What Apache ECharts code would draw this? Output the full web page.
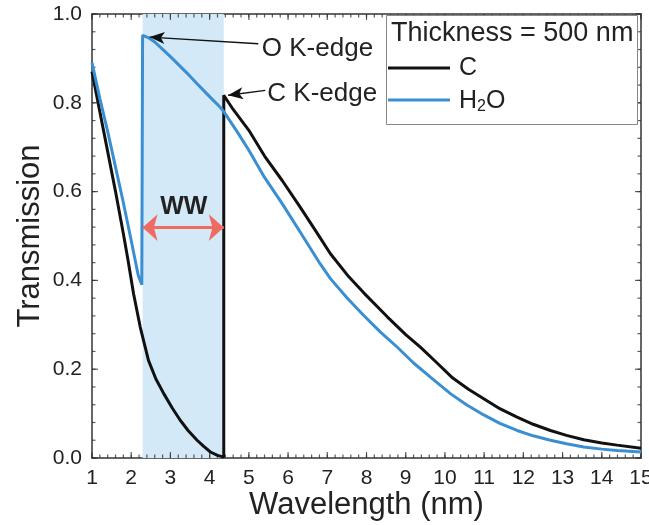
<!DOCTYPE html>
<html>
<head>
<meta charset="utf-8">
<script src="https://cdn.jsdelivr.net/npm/echarts@6/dist/echarts.min.js"></script>
<style>
  html, body { margin: 0; padding: 0; background: #fff; }
  #chart { width: 649px; height: 525px; }
</style>
</head>
<body>
<div id="chart"></div>
<script>
// carbon, 500 nm
var cWave = [1.0, 1.2, 1.4, 1.6, 1.8, 1.92, 2.06, 2.23, 2.44, 2.63, 2.83, 3.05, 3.25, 3.45, 3.68, 3.85, 4.02, 4.2, 4.36,
  4.36, 4.6, 5.0, 5.4, 5.85, 6.3, 6.7, 7.08, 7.55, 7.93, 8.53, 9.0, 9.38, 9.8, 10.2, 10.6, 11.0, 11.4, 11.84, 12.25, 12.69, 13.1, 13.54, 14.0, 14.39, 15.0];
var cTrans = [0.870, 0.780, 0.690, 0.600, 0.505, 0.445, 0.370, 0.295, 0.220, 0.178, 0.145, 0.112, 0.085, 0.062, 0.040, 0.026, 0.0135, 0.006, 0.002,
  0.817, 0.785, 0.738, 0.680, 0.625, 0.566, 0.512, 0.460, 0.408, 0.372, 0.318, 0.278, 0.249, 0.214, 0.180, 0.155, 0.133, 0.111, 0.092, 0.076, 0.062, 0.051, 0.041, 0.034, 0.029, 0.022];

// water, 500 nm
var wWave = [1.0, 1.2, 1.4, 1.6, 1.8, 2.0, 2.18, 2.27,
  2.29, 2.45, 2.6, 2.83, 3.0, 3.25, 3.5, 3.68, 3.9, 4.1, 4.27, 4.36, 4.7, 5.0, 5.4, 5.85, 6.3, 6.82, 7.08, 7.5, 7.93, 8.35, 8.78, 9.2, 9.63, 10.14, 10.55, 10.99, 11.4, 11.84, 12.25, 12.69, 13.1, 13.54, 14.0, 14.39, 15.0];
var wTrans = [0.890, 0.810, 0.735, 0.655, 0.575, 0.490, 0.411, 0.390,
  0.952, 0.946, 0.937, 0.918, 0.904, 0.882, 0.860, 0.843, 0.823, 0.805, 0.790, 0.780, 0.735, 0.693, 0.632, 0.573, 0.510, 0.437, 0.404, 0.361, 0.321, 0.284, 0.250, 0.214, 0.182, 0.145, 0.120, 0.097, 0.078, 0.062, 0.050, 0.040, 0.032, 0.025, 0.020, 0.017, 0.0135];

// water window (O K-edge .. C K-edge)
var edgeO = 2.29;
var edgeC = 4.36;

var xTicks = [1, 15, 1, 0.2];   // min, max, major, minor
var yTicks = [0, 1.0, 0.2, 0.04];

function pairs(xs, ys) {
  var out = [];
  for (var i = 0; i < xs.length; i++) out.push([xs[i], ys[i]]);
  return out;
}
function steps(t, step) {
  var n = Math.round((t[1] - t[0]) / step), out = [];
  for (var i = 0; i <= n; i++) out.push(+(t[0] + i * step).toFixed(4));
  return out;
}

var FONT = "Liberation Sans";
var axisCol = "#333";

function frameAxis(pos, t, extra) {
  var a = {
    type: "value", position: pos,
    min: t[0], max: t[1], interval: t[2],
    axisLine: { show: true, onZero: false, lineStyle: { color: axisCol, width: 1.5 } },
    axisTick: { show: false },
    splitLine: { show: false },
    axisLabel: { show: false },
    nameMoveOverlap: false
  };
  for (var k in extra) a[k] = extra[k];
  return a;
}

// inward ticks, drawn as thin rect symbols sitting on the frame
function tickSeries(side, step, len) {
  var data = [], vals, size, off;
  if (side === "bottom" || side === "top") {
    vals = steps(xTicks, step);
    var yv = side === "bottom" ? yTicks[0] : yTicks[1];
    vals.forEach(function (v) { data.push([v, yv]); });
    size = [1.2, len];
    off = [0, side === "bottom" ? -len / 2 : len / 2];
  } else {
    vals = steps(yTicks, step);
    var xv = side === "left" ? xTicks[0] : xTicks[1];
    vals.forEach(function (v) { data.push([xv, v]); });
    size = [len, 1.2];
    off = [side === "left" ? len / 2 : -len / 2, 0];
  }
  return {
    type: "scatter", data: data, silent: true, clip: false, z: 2,
    symbol: "rect", symbolSize: size, symbolOffset: off,
    itemStyle: { color: axisCol }
  };
}

var chart = echarts.init(document.getElementById("chart"));

var series = [
  {
    // shaded water window + edge arrows
    name: "window",
    type: "line",
    data: [],
    silent: true,
    z: 1,
    markArea: {
      silent: true,
      itemStyle: { color: "#d3e9f7" },
      data: [[{ xAxis: edgeO }, { xAxis: edgeC }]]
    },
    markLine: {
      silent: true,
      symbol: ["none", "arrow"],
      symbolSize: [9, 15],
      label: { show: false },
      lineStyle: { color: "#111", width: 1.3, type: "solid" },
      data: [
        [{ coord: [5.24, 0.933] }, { coord: [2.47, 0.948] }],
        [{ coord: [5.42, 0.828] }, { coord: [4.47, 0.817] }]
      ]
    }
  },
  {
    name: "C",
    type: "line",
    data: pairs(cWave, cTrans),
    showSymbol: false,
    symbol: "none",
    z: 3,
    lineStyle: { color: "#111", width: 3 }
  },
  {
    name: "H2O",
    type: "line",
    data: pairs(wWave, wTrans),
    showSymbol: false,
    symbol: "none",
    z: 4,
    lineStyle: { color: "#3a8fd3", width: 3 }
  },
  {
    // double arrow across the window
    name: "ww",
    type: "line",
    data: [],
    silent: true,
    z: 5,
    markLine: {
      silent: true,
      symbol: ["arrow", "arrow"],
      symbolSize: [20, 15],
      label: { show: false },
      lineStyle: { color: "#ef6a60", width: 3, type: "solid" },
      data: [[{ coord: [edgeO, 0.519] }, { coord: [edgeC, 0.519] }]]
    }
  }
];
["bottom", "top"].forEach(function (s) {
  series.push(tickSeries(s, xTicks[2], 6));
  series.push(tickSeries(s, xTicks[3], 3.5));
});
["left", "right"].forEach(function (s) {
  series.push(tickSeries(s, yTicks[2], 6));
  series.push(tickSeries(s, yTicks[3], 3.5));
});

var option = {
  animation: false,
  grid: { left: 92, right: 8, top: 14, bottom: 67, containLabel: false, outerBoundsMode: "none" },
  xAxis: [
    frameAxis("bottom", xTicks, {
      axisLabel: { show: true, margin: 10, fontFamily: FONT, fontSize: 21, color: "#222" },
      name: "Wavelength (nm)", nameLocation: "middle", nameGap: 32,
      nameTextStyle: { fontFamily: FONT, fontSize: 31, color: "#222" }
    }),
    frameAxis("top", xTicks, {})
  ],
  yAxis: [
    frameAxis("left", yTicks, {
      axisLabel: { show: true, margin: 10, fontFamily: FONT, fontSize: 21, color: "#222",
        formatter: function (v) { return v.toFixed(1); } },
      name: "Transmission", nameLocation: "middle", nameGap: 46,
      nameTextStyle: { fontFamily: FONT, fontSize: 31, color: "#222" }
    }),
    frameAxis("right", yTicks, {})
  ],
  series: series
};
chart.setOption(option);

// texts placed from data coords
function px(x, y) { return chart.convertToPixel({ gridIndex: 0 }, [x, y]); }
var pO = px(5.33, 0.921);
var pC = px(5.47, 0.82);
var pW = px(3.34, 0.565);

chart.setOption({
  graphic: [
    { type: "text", x: pO[0], y: pO[1], z: 10,
      style: { text: "O K-edge", font: "26px " + FONT, fill: "#222", verticalAlign: "middle" } },
    { type: "text", x: pC[0], y: pC[1], z: 10,
      style: { text: "C K-edge", font: "26px " + FONT, fill: "#222", verticalAlign: "middle" } },
    { type: "text", x: pW[0], y: pW[1], z: 10,
      style: { text: "WW", font: "bold 25px " + FONT, fill: "#222", align: "center", verticalAlign: "middle" } },
    // legend box
    { type: "rect", z: 10, shape: { x: 386.5, y: 15.5, width: 251, height: 109 },
      style: { fill: "#fff", stroke: "#888", lineWidth: 1 } },
    { type: "text", z: 11, x: 391, y: 34,
      style: { text: "Thickness = 500 nm", font: "27px " + FONT, fill: "#222", verticalAlign: "middle" } },
    { type: "line", z: 11, shape: { x1: 388, y1: 68, x2: 450, y2: 68 },
      style: { stroke: "#111", lineWidth: 3 } },
    { type: "text", z: 11, x: 459, y: 68,
      style: { text: "C", font: "25px " + FONT, fill: "#222", verticalAlign: "middle" } },
    { type: "line", z: 11, shape: { x1: 388, y1: 100, x2: 450, y2: 100 },
      style: { stroke: "#3a8fd3", lineWidth: 3 } },
    { type: "text", z: 11, x: 459, y: 101,
      style: { verticalAlign: "middle", rich: {
        n: { fontFamily: FONT, fontSize: 25, fill: "#222" },
        s: { fontFamily: FONT, fontSize: 16, fill: "#222", padding: [12, 0, 0, 0] }
      }, text: "{n|H}{s|2}{n|O}" } }
  ]
});
</script>
</body>
</html>
